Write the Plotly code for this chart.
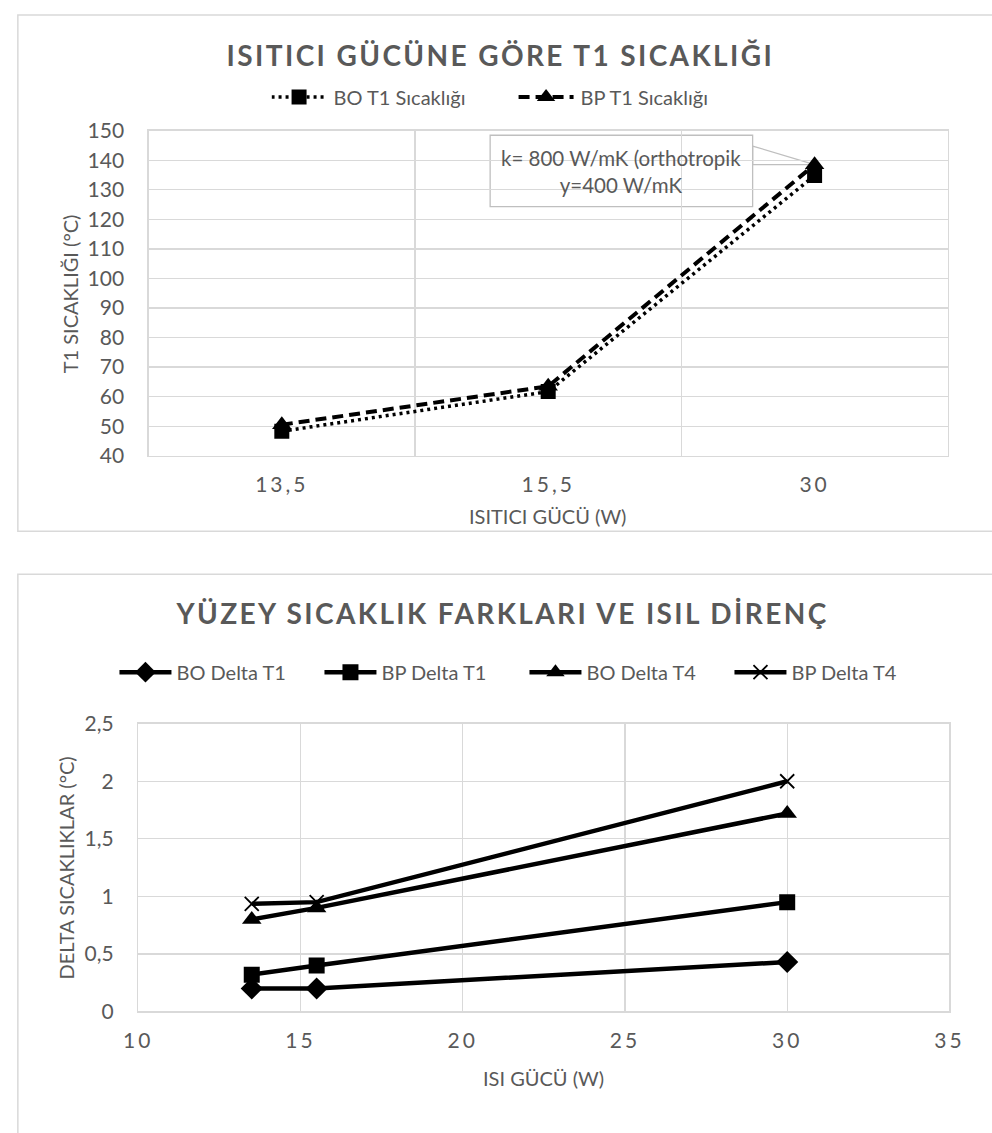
import plotly.graph_objects as go

# ---------------- data ----------------
top_categories = ["13,5", "15,5", "30"]
bo_t1 = [48.3, 61.7, 134.8]
bp_t1 = [50.5, 63.5, 138.5]

heater_power = [13.5, 15.5, 30]
bo_delta_t1 = [0.20, 0.20, 0.43]
bp_delta_t1 = [0.32, 0.40, 0.95]
bo_delta_t4 = [0.80, 0.90, 1.72]
bp_delta_t4 = [0.935, 0.95, 2.00]

W, H = 992, 1133
FONT = "Lato, Carlito, Calibri, sans-serif"
TXT = "#595959"
GRID = "#d9d9d9"


def px(x):
    return x / W


def py(y):
    return 1 - y / H


fig = go.Figure()

# ---------- top chart ----------
fig.add_trace(go.Scatter(
    x=top_categories, y=bo_t1, name="BO T1 Sıcaklığı", mode="lines+markers",
    line=dict(color="black", width=3.5, dash="3px,4px"),
    marker=dict(symbol="square", size=15, color="black"),
    xaxis="x", yaxis="y", legend="legend"))
fig.add_trace(go.Scatter(
    x=top_categories, y=bp_t1, name="BP T1 Sıcaklığı", mode="lines+markers",
    line=dict(color="black", width=4, dash="11px,6px"),
    marker=dict(symbol="triangle-up", size=17, color="black"),
    xaxis="x", yaxis="y", legend="legend"))

# ---------- bottom chart ----------
fig.add_trace(go.Scatter(
    x=heater_power, y=bo_delta_t1, name="BO Delta T1", mode="lines+markers",
    line=dict(color="black", width=4.5),
    marker=dict(symbol="diamond", size=17, color="black"),
    xaxis="x2", yaxis="y2", legend="legend2"))
fig.add_trace(go.Scatter(
    x=heater_power, y=bp_delta_t1, name="BP Delta T1", mode="lines+markers",
    line=dict(color="black", width=4.5),
    marker=dict(symbol="square", size=16, color="black"),
    xaxis="x2", yaxis="y2", legend="legend2"))
fig.add_trace(go.Scatter(
    x=heater_power, y=bo_delta_t4, name="BO Delta T4", mode="lines+markers",
    line=dict(color="black", width=4.5),
    marker=dict(symbol="triangle-up", size=17, color="black"),
    xaxis="x2", yaxis="y2", legend="legend2"))
fig.add_trace(go.Scatter(
    x=heater_power, y=bp_delta_t4, name="BP Delta T4", mode="lines+markers",
    line=dict(color="black", width=4.5),
    marker=dict(symbol="x-thin", size=14, color="black",
                line=dict(color="black", width=1.8)),
    xaxis="x2", yaxis="y2", legend="legend2"))

tickfont = dict(family=FONT, size=21, color=TXT)

fig.update_layout(
    width=W, height=H,
    margin=dict(l=0, r=0, t=0, b=0),
    paper_bgcolor="white", plot_bgcolor="white",
    separators=",.",
    font=dict(family=FONT, color=TXT),
    hovermode=False,
    xaxis=dict(
        domain=[px(140), px(959)], anchor="y",
        type="category", range=[-0.5, 2.5], tickson="boundaries",
        showgrid=True, gridcolor=GRID, gridwidth=1.3,
        showline=True, linecolor=GRID, linewidth=1.3, mirror=True,
        ticks="", tickfont=tickfont, ticklabelstandoff=10, zeroline=False),
    yaxis=dict(
        domain=[py(451.7), py(119.3)], anchor="x",
        range=[40, 150], dtick=10, tick0=40,
        showgrid=True, gridcolor=GRID, gridwidth=1.3,
        showline=True, linecolor=GRID, linewidth=1.3, mirror=True,
        ticks="", tickfont=tickfont, ticklabelstandoff=19, zeroline=False),
    xaxis2=dict(
        domain=[px(129.3), px(960.7)], anchor="y2",
        range=[10, 35], dtick=5, tick0=10,
        showgrid=True, gridcolor=GRID, gridwidth=1.3,
        showline=True, linecolor=GRID, linewidth=1.3, mirror=True,
        ticks="", tickfont=tickfont, ticklabelstandoff=10, zeroline=False),
    yaxis2=dict(
        domain=[py(1020), py(725.7)], anchor="x2",
        range=[0, 2.5], dtick=0.5, tick0=0,
        showgrid=True, gridcolor=GRID, gridwidth=1.3,
        showline=True, linecolor=GRID, linewidth=1.3, mirror=True,
        ticks="", tickfont=tickfont, ticklabelstandoff=19, zeroline=False),
    legend=dict(
        orientation="h", x=px(266), xanchor="left", y=py(85), yanchor="middle",
        font=dict(family=FONT, size=20, color=TXT), bgcolor="rgba(0,0,0,0)",
        itemwidth=52, traceorder="normal", entrywidth=180, entrywidthmode="pixels"),
    legend2=dict(
        orientation="h", x=px(105), xanchor="left", y=py(673), yanchor="middle",
        font=dict(family=FONT, size=20, color=TXT), bgcolor="rgba(0,0,0,0)",
        itemwidth=52, traceorder="normal", entrywidth=138, entrywidthmode="pixels"),
    showlegend=True,
)

shapes = [
    # chart area borders
    dict(type="rect", xref="paper", yref="paper", x0=px(6), x1=1.02, y0=py(529), y1=py(1),
         line=dict(color=GRID, width=1.5), fillcolor="rgba(0,0,0,0)", layer="below"),
    dict(type="rect", xref="paper", yref="paper", x0=px(6), x1=1.02, y0=-0.02, y1=py(573),
         line=dict(color=GRID, width=1.5), fillcolor="rgba(0,0,0,0)", layer="below"),
    # callout wedge and box
    dict(type="path", xref="paper", yref="paper",
         path=f"M {px(759)},{py(135)} L {px(822.5)},{py(154)} L {px(759)},{py(154)} Z",
         line=dict(color="#bfbfbf", width=1.3), fillcolor="white", layer="between"),
    dict(type="rect", xref="paper", yref="paper", x0=px(490), x1=px(759), y0=py(197), y1=py(124),
         line=dict(color="#bfbfbf", width=1.3), fillcolor="white", layer="between"),
]
fig.update_layout(shapes=shapes)

annotations = [
    dict(text="<b>ISITICI GÜCÜNE GÖRE T1 SICAKLIĞI</b>", x=px(501), y=py(42), xref="paper", yref="paper",
         showarrow=False, xanchor="center", yanchor="middle",
         font=dict(family=FONT, size=28, color=TXT)),
    dict(text="<b>YÜZEY SICAKLIK FARKLARI VE ISIL DİRENÇ</b>", x=px(502), y=py(613), xref="paper", yref="paper",
         showarrow=False, xanchor="center", yanchor="middle",
         font=dict(family=FONT, size=28, color=TXT)),
    dict(text="T1 SICAKLIĞI (°C)", x=px(59), y=py(286), xref="paper", yref="paper",
         showarrow=False, textangle=-90, xanchor="center", yanchor="middle",
         font=dict(family=FONT, size=20, color=TXT)),
    dict(text="ISITICI GÜCÜ (W)", x=px(549), y=py(513), xref="paper", yref="paper",
         showarrow=False, xanchor="center", yanchor="middle",
         font=dict(family=FONT, size=20, color=TXT)),
    dict(text="DELTA SICAKLIKLAR (°C)", x=px(55), y=py(873), xref="paper", yref="paper",
         showarrow=False, textangle=-90, xanchor="center", yanchor="middle",
         font=dict(family=FONT, size=20, color=TXT)),
    dict(text="ISI GÜCÜ (W)", x=px(545), y=py(1088), xref="paper", yref="paper",
         showarrow=False, xanchor="center", yanchor="middle",
         font=dict(family=FONT, size=20, color=TXT)),
    dict(text="k= 800 W/mK (orthotropik<br>y=400 W/mK", x=px(624), y=py(161), xref="paper", yref="paper",
         showarrow=False, xanchor="center", yanchor="middle", align="center",
         font=dict(family=FONT, size=20.5, color=TXT)),
]
fig.update_layout(annotations=annotations)

post = """
document.documentElement.style.margin='0';
document.body.style.margin='0';
document.body.style.padding='0';
document.body.style.overflow='hidden';
document.querySelectorAll('g.annotation text').forEach(function(t){
  var s = t.textContent || '';
  if (s.indexOf('ISITICI GÜCÜNE') === 0 || s.indexOf('YÜZEY') === 0) {
    t.style.letterSpacing = '2.4px';
  }
});
document.querySelectorAll('g.xtick text, g.x2tick text').forEach(function(t){
  t.style.letterSpacing = '3px';
});
document.querySelectorAll('g.legend g.traces').forEach(function(tr){
  tr.querySelectorAll('g.legendlines path').forEach(function(p){ p.setAttribute('d','M0,0h55'); });
  tr.querySelectorAll('g.legendpoints path').forEach(function(p){ p.setAttribute('transform','translate(27.5,0)'); });
});
"""

fig.write_html("out.html", post_script=post, config={"displayModeBar": False, "staticPlot": True})
